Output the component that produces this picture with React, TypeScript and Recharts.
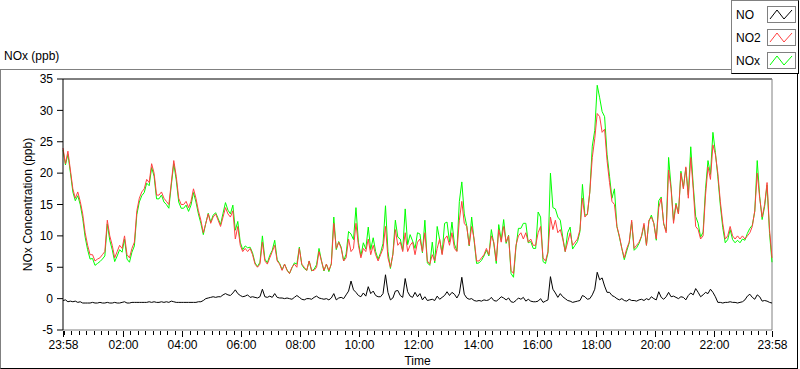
import React from "react";
import { LineChart, Line, XAxis, YAxis, ReferenceLine } from "recharts";

const FONT = "'Liberation Sans Narrow', 'Liberation Sans', Arial, sans-serif";

// one reading every 5 minutes, first one at 23:58
const NO = [
  -0.3, -0.2, -0.5, -0.4, -0.5, -0.4, -0.6, -0.5, -0.7, -0.7,
  -0.7, -0.7, -0.6, -0.7, -0.7, -0.6, -0.7, -0.7, -0.6, -0.7,
  -0.7, -0.6, -0.7, -0.7, -0.6, -0.5, -0.7, -0.7, -0.6, -0.6,
  -0.6, -0.6, -0.6, -0.6, -0.6, -0.5, -0.6, -0.5, -0.6, -0.6,
  -0.5, -0.6, -0.5, -0.6, -0.4, -0.5, -0.6, -0.6, -0.6, -0.6,
  -0.6, -0.6, -0.6, -0.6, -0.6, -0.5, -0.5, -0.3, 0.0, 0.1,
  0.2, 0.3, 0.2, 0.3, 0.3, 0.6, 0.8, 0.6, 0.5, 0.9,
  1.4, 0.8, 0.5, 0.3, 0.4, 0.6, 0.2, 0.3, 0.2, 0.1,
  0.3, 1.5, 0.3, 0.2, 0.4, 0.2, 0.8, 0.2, 0.1, 0.1,
  0.0, 0.1, 0.0, -0.1, 0.2, 0.5, 0.2, -0.1, -0.2, 0.0,
  0.0, -0.1, 0.2, 0.4, 0.1, 0.0, -0.1, 0.0, -0.2, 0.1,
  0.8, -0.2, 0.1, 0.2, 0.0, 0.6, 1.2, 2.8, 1.4, 1.0,
  0.5, 0.3, 0.9, 0.4, 1.9, 0.8, 1.2, 0.5, 0.3, 0.3,
  0.8, 3.8, 1.0, -0.2, 0.1, 1.2, 1.3, 0.5, 0.2, 3.2,
  1.1, 0.4, 0.2, 1.0, 0.3, 0.8, -0.2, 0.3, -0.3, -0.2,
  -0.1, -0.3, 0.4, -0.1, 0.2, 0.5, 1.1, 0.5, 1.0, 0.7,
  0.1, 0.8, 3.4, 0.7, 0.1, -0.1, 0.0, -0.3, -0.4, -0.3,
  -0.4, -0.2, -0.3, -0.2, 0.2, -0.3, -0.4, -0.1, 0.3, 0.1,
  -0.2, 0.1, -0.5, -0.6, -0.3, 0.1, -0.1, 0.2, -0.4, -0.1,
  -0.4, -0.5, -0.5, -0.4, 0.0, -0.6, -0.4, -0.2, 3.5, 1.5,
  0.9, 0.2, 0.8, 0.3, 0.0, -0.3, -0.4, -0.6, -0.5, -0.4,
  -0.3, 0.5, 0.3, -0.1, 0.0, 0.6, 1.5, 4.2, 3.0, 3.3,
  2.0, 1.0, 1.0, 0.5, 0.3, 0.0, -0.2, 0.0, -0.3, -0.4,
  -0.1, -0.3, -0.3, -0.4, -0.2, -0.1, -0.3, 0.0, -0.2, 0.3,
  0.0, -0.2, 1.1, 0.2, -0.1, 0.3, 1.0, 0.3, 0.4, 0.2,
  0.0, 0.3, 0.2, -0.2, 0.5, 0.9, 0.6, 1.6, 1.0, 0.3,
  0.6, 1.0, 0.8, 1.5, 1.0, 0.3, -0.6, -0.6, -0.7, -0.6,
  -0.6, -0.5, -0.6, -0.6, -0.7, -0.6, -0.5, -0.2, 0.4, 0.7,
  0.2, -0.1, 0.6, 0.3, -0.4, -0.3, -0.4, -0.6, -0.7,
];

const NO2 = [
  24.0, 21.5, 23.5, 20.5, 17.5, 16.0, 17.0, 15.5, 13.5, 10.5,
  8.5, 7.0, 7.0, 6.0, 6.3, 6.5, 7.0, 7.5, 12.5, 10.0,
  8.5, 6.5, 7.5, 8.5, 8.0, 10.0, 7.0, 6.5, 8.0, 9.0,
  14.0, 16.0, 17.0, 17.5, 19.0, 18.5, 21.5, 20.0, 16.5, 16.5,
  17.0, 16.0, 15.5, 15.0, 18.5, 22.0, 19.5, 16.0, 15.0, 15.0,
  15.5, 14.5, 15.5, 17.5, 16.0, 14.0, 12.5, 10.5, 12.0, 13.5,
  12.0, 13.0, 13.5, 12.5, 11.5, 13.0, 14.5, 13.5, 13.0, 14.0,
  9.5, 11.5, 8.5, 7.5, 8.0, 7.5, 8.0, 7.0, 5.5, 5.0,
  5.5, 9.0, 6.0, 5.5, 6.5, 7.5, 8.5, 6.0, 5.5, 4.5,
  5.5, 4.5, 4.0, 5.0, 5.5, 5.0, 8.0, 5.5, 5.0, 4.5,
  6.0, 4.5, 4.5, 5.0, 7.5, 6.0, 4.5, 5.5, 4.5, 5.5,
  12.0, 8.0, 9.0, 8.0, 6.0, 6.5, 9.5, 7.5, 8.0, 12.0,
  8.5, 6.5, 8.0, 7.5, 9.5, 7.0, 8.5, 7.0, 6.0, 7.0,
  8.0, 11.5, 6.5, 5.0, 7.0, 11.0, 8.5, 9.0, 7.5, 10.5,
  7.5, 8.5, 9.0, 7.0, 9.0, 9.5, 7.5, 10.5, 6.0, 5.5,
  7.0, 6.0, 8.0, 9.5, 7.0, 9.5, 10.0, 8.5, 10.5, 8.0,
  7.5, 12.5, 15.5, 12.0, 11.5, 8.5, 11.5, 9.5, 6.0, 6.0,
  6.5, 7.0, 8.0, 7.0, 10.0, 9.0, 6.0, 11.0, 9.0, 11.5,
  9.0, 10.0, 4.5, 4.0, 8.5, 10.0, 10.5, 9.5, 10.5, 9.0,
  9.5, 8.5, 8.5, 10.5, 11.5, 6.5, 6.0, 7.5, 13.0, 11.0,
  12.5, 10.5, 11.0, 9.5, 7.5, 9.0, 10.5, 8.5, 9.0, 9.5,
  11.0, 16.0, 13.0, 13.5, 17.0, 22.5, 25.5, 29.5, 29.0, 26.5,
  27.0, 22.0, 18.5, 15.5, 15.0, 11.5, 10.0, 8.0, 6.5, 8.0,
  9.0, 12.5, 8.0, 8.5, 9.0, 10.0, 12.0, 8.5, 12.5, 13.0,
  12.0, 9.5, 14.5, 16.0, 12.0, 10.5, 20.5, 17.5, 12.0, 15.0,
  13.5, 20.0, 17.5, 21.0, 16.0, 22.5, 17.5, 11.5, 11.0, 9.5,
  10.0, 16.5, 21.0, 19.0, 24.5, 23.0, 20.0, 15.5, 12.0, 9.5,
  10.0, 11.5, 10.0, 9.5, 10.0, 9.5, 10.0, 9.5, 10.0, 10.5,
  11.5, 14.0, 20.0, 16.0, 13.0, 15.0, 18.5, 11.0, 6.5,
];

const NOX = [
  23.7, 21.3, 23.0, 20.1, 17.0, 15.6, 16.4, 15.0, 12.8, 9.8,
  7.8, 6.3, 6.4, 5.3, 5.6, 5.9, 6.3, 6.8, 11.9, 9.3,
  7.8, 5.9, 6.8, 7.8, 7.4, 9.5, 6.3, 5.8, 7.4, 8.4,
  13.4, 15.4, 16.4, 16.9, 18.4, 18.0, 20.9, 19.5, 15.9, 15.9,
  16.5, 15.4, 15.0, 14.4, 18.1, 21.5, 18.9, 15.4, 14.4, 14.4,
  14.9, 13.9, 14.9, 16.9, 15.4, 13.5, 12.0, 10.2, 12.0, 13.6,
  12.2, 13.3, 13.7, 12.8, 11.8, 13.6, 15.3, 14.1, 13.5, 14.9,
  10.9, 12.3, 9.0, 7.8, 8.4, 8.1, 8.2, 7.3, 5.7, 5.1,
  5.8, 10.0, 6.3, 5.7, 6.9, 7.7, 9.3, 6.2, 5.6, 4.6,
  5.5, 4.6, 4.0, 4.9, 5.7, 5.5, 8.2, 5.4, 4.8, 4.5,
  6.0, 4.4, 4.7, 5.4, 8.0, 6.0, 4.4, 5.5, 4.3, 5.6,
  13.0, 7.8, 9.1, 8.2, 6.0, 7.1, 10.7, 10.3, 9.4, 14.5,
  9.0, 6.8, 8.9, 7.9, 11.4, 7.8, 9.7, 7.5, 6.3, 7.3,
  8.8, 14.8, 7.5, 4.8, 7.1, 12.5, 9.8, 9.5, 7.7, 14.3,
  8.6, 10.2, 9.2, 8.0, 10.5, 10.3, 7.3, 12.5, 5.7, 5.3,
  9.0, 5.7, 11.5, 9.4, 7.2, 12.0, 12.2, 9.0, 12.2, 8.7,
  7.6, 15.5, 18.6, 13.5, 11.6, 8.4, 13.0, 9.2, 5.6, 5.7,
  6.1, 6.8, 7.7, 6.8, 11.0, 8.7, 5.6, 11.8, 9.3, 12.6,
  8.8, 10.1, 4.0, 3.4, 8.2, 11.2, 11.2, 12.0, 12.0, 8.9,
  9.1, 8.0, 8.0, 13.8, 13.0, 5.9, 5.6, 7.3, 20.0, 14.5,
  14.3, 13.0, 12.5, 9.8, 7.5, 10.5, 11.4, 7.9, 8.5, 9.1,
  10.7, 18.2, 13.3, 13.4, 17.0, 24.3, 26.8, 34.0, 32.0, 29.8,
  29.0, 23.0, 19.5, 16.0, 17.5, 11.5, 9.8, 8.0, 6.2, 7.6,
  8.9, 12.2, 7.7, 8.1, 8.8, 9.9, 11.7, 8.5, 12.3, 13.3,
  12.0, 9.3, 15.6, 16.2, 11.9, 10.8, 22.5, 17.8, 12.4, 15.2,
  13.5, 20.3, 17.7, 20.8, 16.5, 24.2, 18.1, 13.1, 12.0, 9.8,
  10.6, 17.5, 22.0, 19.8, 26.5, 23.3, 19.4, 14.9, 11.3, 8.9,
  9.4, 11.0, 9.4, 8.9, 9.3, 8.9, 9.5, 9.3, 10.4, 11.2,
  11.7, 13.9, 22.0, 16.3, 12.6, 14.7, 18.1, 10.4, 5.8,
];

// minutes after 23:58 for the labelled ticks
const majorTicks = [0, 122, 242, 362, 482, 602, 722, 842, 962, 1082, 1202, 1322, 1440];
const majorLabels = [
  "23:58", "02:00", "04:00", "06:00", "08:00", "10:00", "12:00",
  "14:00", "16:00", "18:00", "20:00", "22:00", "23:58",
];
const yTicks = [-5, 0, 5, 10, 15, 20, 25, 30, 35];

const minorTicks: number[] = [];
for (let m = 2; m < 1440; m += 15) minorTicks.push(m);
const xTicks = Array.from(new Set([...majorTicks, ...minorTicks])).sort((a, b) => a - b);

const data = NO.map((v, i) => ({ t: i * 5, no: v, no2: NO2[i], nox: NOX[i] }));

const legendItems = [
  { name: "NO", color: "#000000" },
  { name: "NO2", color: "#ff4040" },
  { name: "NOx", color: "#00ff00" },
];

function TimeTick(props: any) {
  const { x, y, payload } = props;
  const idx = majorTicks.indexOf(payload.value);
  const major = idx >= 0;
  const px = Math.round(x) + 0.5;
  return (
    <g>
      <rect x={Math.round(x)} y={Math.round(y) + 1} width={1} height={major ? 6 : 4} fill="#000" />
      {major && (
        <text x={px} y={y + 19} textAnchor="middle" fontSize={12} fontFamily={FONT} fill="#000">
          {majorLabels[idx]}
        </text>
      )}
    </g>
  );
}

function Swatch({ color }: { color: string }) {
  return (
    <svg width={29} height={17} style={{ display: "block" }}>
      <rect x={0.5} y={0.5} width={28} height={16} fill="#fff" stroke="#808080" />
      <polyline points="3,13 10,4 17,13 25,4" fill="none" stroke={color} strokeWidth={1} />
    </svg>
  );
}

export default function App() {
  return (
    <div style={{ position: "absolute", left: 0, top: 0, width: 800, height: 369, background: "#fff", fontFamily: FONT }}>
      <div
        style={{
          position: "absolute",
          left: 0,
          top: 69,
          width: 796,
          height: 298,
          borderTop: "1px solid #808080",
          borderLeft: "1px solid #808080",
          borderRight: "1px solid #000",
          borderBottom: "1px solid #000",
        }}
      />
      <div style={{ position: "absolute", left: 4, top: 49, fontSize: 12, color: "#000" }}>NOx (ppb)</div>

      <div style={{ position: "absolute", left: 0, top: 0 }}>
        <LineChart width={800} height={369} data={data} margin={{ top: 79, right: 28, bottom: 0, left: 0 }}>
          <XAxis
            dataKey="t"
            type="number"
            domain={[0, 1440]}
            ticks={xTicks}
            interval={0}
            tick={<TimeTick />}
            tickLine={false}
            tickSize={0}
            tickMargin={0}
            height={39}
            axisLine={{ stroke: "#808080" }}
            label={{ value: "Time", position: "insideBottom", offset: 4, fontSize: 12, fontFamily: FONT, fill: "#000" }}
          />
          <YAxis
            type="number"
            domain={[-5, 35]}
            ticks={yTicks}
            interval={0}
            width={63}
            tickSize={6}
            tickMargin={4}
            tickLine={{ stroke: "#000" }}
            axisLine={{ stroke: "#000" }}
            tick={{ fill: "#000", fontSize: 12, fontFamily: FONT }}
            label={{
              value: "NOx Concentration (ppb)",
              angle: -90,
              position: "insideLeft",
              offset: 28,
              fontSize: 12,
              fontFamily: FONT,
              fill: "#000",
              style: { textAnchor: "middle" },
            }}
          />
          <ReferenceLine y={35} stroke="#000" />
          <ReferenceLine x={1440} stroke="#808080" />
          <Line dataKey="nox" stroke="#00ff00" strokeWidth={1} dot={false} activeDot={false} isAnimationActive={false} />
          <Line dataKey="no2" stroke="#ff4040" strokeWidth={1} dot={false} activeDot={false} isAnimationActive={false} />
          <Line dataKey="no" stroke="#000000" strokeWidth={1} dot={false} activeDot={false} isAnimationActive={false} />
        </LineChart>
      </div>

      <div
        style={{
          position: "absolute",
          left: 731,
          top: 0,
          width: 66,
          height: 72,
          background: "#fff",
          borderTop: "1px solid #808080",
          borderLeft: "1px solid #808080",
          borderRight: "1px solid #000",
          borderBottom: "1px solid #000",
        }}
      >
        {legendItems.map((item, i) => (
          <div
            key={item.name}
            style={{ position: "absolute", left: 0, top: 5 + i * 23, width: 66, height: 17, display: "flex", alignItems: "center" }}
          >
            <span style={{ position: "absolute", left: 4, fontSize: 12, color: "#000" }}>{item.name}</span>
            <div style={{ position: "absolute", left: 35 }}>
              <Swatch color={item.color} />
            </div>
          </div>
        ))}
      </div>
    </div>
  );
}
